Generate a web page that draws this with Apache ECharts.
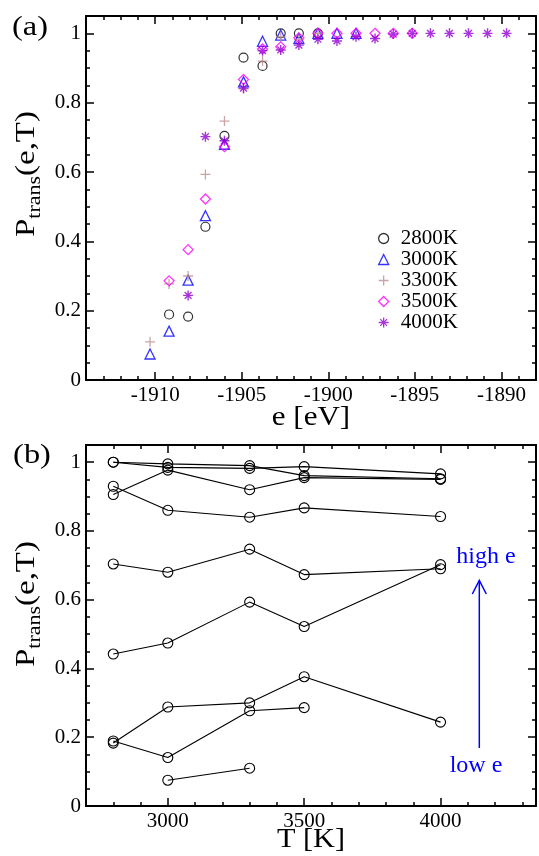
<!DOCTYPE html>
<html>
<head>
<meta charset="utf-8">
<script src="https://cdn.jsdelivr.net/npm/echarts@6/dist/echarts.min.js"></script>
<style>
  html, body { margin: 0; padding: 0; background: #fff; }
  #chart { width: 539px; height: 856px; }
</style>
</head>
<body>
<div id="chart"></div>
<script>
// energy grid (eV), one column of points per value
const eValues = [-1910.3, -1909.2, -1908.1, -1907.1, -1906.0, -1904.9, -1903.8, -1902.75, -1901.7, -1900.6,
                 -1899.5, -1898.4, -1897.3, -1896.25, -1895.15, -1894.1, -1893.0, -1891.9, -1890.8, -1889.7];
const temps = [2800, 3000, 3300, 3500, 4000];
const tempNames = ["2800K", "3000K", "3300K", "3500K", "4000K"];

// P_trans(e,T) per temperature, index = energy column (null = no point)
const p2800 = [null, 0.189, 0.183, 0.442, 0.704, 0.930, 0.906, 1.000, 1.000, 1.000,
               null, null, null, null, null, null, null, null, null, null];
const p3000 = [0.075, 0.141, 0.288, 0.474, 0.680, 0.860, 0.977, 0.995, 0.985, 1.000,
               1.000, 1.000, null, null, null, null, null, null, null, null];
const p3300 = [0.110, 0.277, 0.300, 0.593, 0.747, 0.840, 0.920, 0.990, 0.982, 1.000,
               null, null, null, null, null, null, null, null, null, null];
const p3500 = [null, 0.286, 0.376, 0.522, 0.673, 0.867, 0.955, 0.961, 0.987, 1.000,
               1.000, 1.000, 1.000, 1.000, 1.000, null, null, null, null, null];
const p4000 = [null, null, 0.244, 0.702, 0.690, 0.842, 0.950, 0.952, 0.966, 0.983,
               0.978, 0.990, 0.985, 0.998, 1.000, 1.000, 1.000, 1.000, 1.000, 1.000];
const pByTemp = [p2800, p3000, p3300, p3500, p4000];

// panel (b) draws the lowest energies only
const panelBEnergies = 9;

// tick labels
const eTicks = [-1910, -1905, -1900, -1895, -1890];
const tTicks = [3000, 3500, 4000];
const pTicks = [0, 0.2, 0.4, 0.6, 0.8, 1];

const FONT = "Liberation Serif";

// minor ticks
const eMinor = [];
for (let v = -1913; v <= -1889; v++) if (v % 5 !== 0) eMinor.push(v);
const tMinor = [];
for (let v = 2800; v <= 4300; v += 100) if (v % 500 !== 0) tMinor.push(v);
const pMinor = [];
for (let i = 1; i < 21; i++) if (i % 4 !== 0) pMinor.push(Math.round(i * 5) / 100);

// frame: every side gets major + minor inside ticks
function frameAxes(dim, gridIndex, min, max, major, minor) {
  const sides = dim === "x" ? ["bottom", "top"] : ["left", "right"];
  const axes = [];
  sides.forEach((pos, s) => {
    axes.push({
      type: "value", gridIndex, min, max, position: pos,
      axisLine: { show: true, onZero: false, lineStyle: { color: "#000", width: 2 } },
      axisTick: { show: true, inside: true, length: 8, customValues: major, lineStyle: { color: "#000", width: 1.5 } },
      axisLabel: {
        show: s === 0, customValues: major, color: "#000",
        fontFamily: FONT, fontSize: 21, margin: 5,
        formatter: v => String(v),
      },
      splitLine: { show: false },
    });
    axes.push({
      type: "value", gridIndex, min, max, position: pos,
      axisLine: { show: false, onZero: false },
      axisTick: { show: true, inside: true, length: 4, customValues: minor, lineStyle: { color: "#000", width: 1.5 } },
      axisLabel: { show: false },
      splitLine: { show: false },
    });
  });
  return axes;
}

const hollow = (c, w) => ({ color: "rgba(0,0,0,0)", borderColor: c, borderWidth: w });
const markers = [
  { symbol: "circle", size: 9, style: hollow("#000000", 1.2) },
  { symbol: "triangle", size: 10, style: hollow("#0000FF", 1.3) },
  { symbol: "path://M5,0V10M0,5H10", size: 10, style: hollow("#BC8F8F", 1.3) },
  { symbol: "diamond", size: 10, style: hollow("#FF00FF", 1.3) },
  { symbol: "path://M5,0V10M0,5H10M1.6,1.6L8.4,8.4M8.4,1.6L1.6,8.4", size: 10, style: hollow("#9400D3", 1.4) },
];

const series = [];
// panel (a): P vs e, one scatter per temperature
pByTemp.forEach((arr, t) => {
  series.push({
    name: tempNames[t], type: "scatter", xAxisIndex: 0, yAxisIndex: 0,
    symbol: markers[t].symbol, symbolSize: markers[t].size, itemStyle: markers[t].style,
    data: eValues.map((e, k) => (arr[k] == null ? null : [e, arr[k]])).filter(d => d),
    z: 3 + t,
  });
});
// panel (b): P vs T, one line per energy
for (let k = 0; k < panelBEnergies; k++) {
  series.push({
    type: "line", xAxisIndex: 4, yAxisIndex: 4,
    symbol: "circle", symbolSize: 10, showAllSymbol: true,
    itemStyle: hollow("#000", 1.1),
    lineStyle: { color: "#000", width: 1.1 },
    data: temps.map((T, t) => (pByTemp[t][k] == null ? null : [T, pByTemp[t][k]])).filter(d => d),
  });
}

const titleText = (x, y, text, size, scaleX) => ({
  type: "text", x, y, scaleX: scaleX || 1,
  style: { text, fontFamily: FONT, fontSize: size, fill: "#000", align: "center", verticalAlign: "middle" },
});
const pLabel = (x, y) => ({
  type: "text", x, y, rotation: Math.PI / 2, scaleX: 1.22,
  style: {
    text: "{m|P}{s|trans}{m|(e,T)}", align: "center", verticalAlign: "middle",
    rich: {
      m: { fontFamily: FONT, fontSize: 27, fill: "#000", lineHeight: 34, verticalAlign: "middle" },
      s: { fontFamily: FONT, fontSize: 18, fill: "#000", lineHeight: 20, verticalAlign: "bottom" },
    },
  },
});

const chart = echarts.init(document.getElementById("chart"), null, { renderer: "canvas" });
chart.setOption({
  animation: false,
  backgroundColor: "#fff",
  textStyle: { fontFamily: FONT },
  grid: [
    { left: 86, top: 16, width: 450, height: 364 },
    { left: 86, top: 445, width: 450, height: 361 },
  ],
  xAxis: [
    ...frameAxes("x", 0, -1914, -1888, eTicks, eMinor),
    ...frameAxes("x", 1, 2700, 4350, tTicks, tMinor),
  ],
  yAxis: [
    ...frameAxes("y", 0, 0, 1.05, pTicks, pMinor),
    ...frameAxes("y", 1, 0, 1.05, pTicks, pMinor),
  ],
  legend: {
    orient: "vertical", left: 373, top: 223, itemWidth: 10, itemHeight: 10, itemGap: 0,
    data: tempNames,
    itemStyle: { borderWidth: 1.3 },
    textStyle: { fontFamily: FONT, fontSize: 21, color: "#000", lineHeight: 21, padding: [0, 0, 0, 7] },
  },
  series,
  graphic: [
    titleText(30, 28, "(a)", 27, 1.2),
    titleText(32, 456, "(b)", 27, 1.2),
    titleText(311, 418, "e [eV]", 27, 1.15),
    titleText(311, 840, "T [K]", 27, 1.12),
    pLabel(27, 174),
    pLabel(27, 604),
    {
      type: "text", x: 486, y: 556.7,
      style: { text: "high e", fontFamily: FONT, fontSize: 24, fill: "#0000FF", align: "center", verticalAlign: "middle" },
    },
    {
      type: "text", x: 476, y: 765.4,
      style: { text: "low e", fontFamily: FONT, fontSize: 24, fill: "#0000FF", align: "center", verticalAlign: "middle" },
    },
    { type: "line", shape: { x1: 479.3, y1: 581, x2: 479.3, y2: 748 }, style: { stroke: "#0000FF", lineWidth: 1.5 } },
    {
      type: "polyline", shape: { points: [[472.3, 594], [479.3, 580.5], [486.3, 594]] },
      style: { stroke: "#0000FF", lineWidth: 1.5, fill: null },
    },
  ],
});
</script>
</body>
</html>
